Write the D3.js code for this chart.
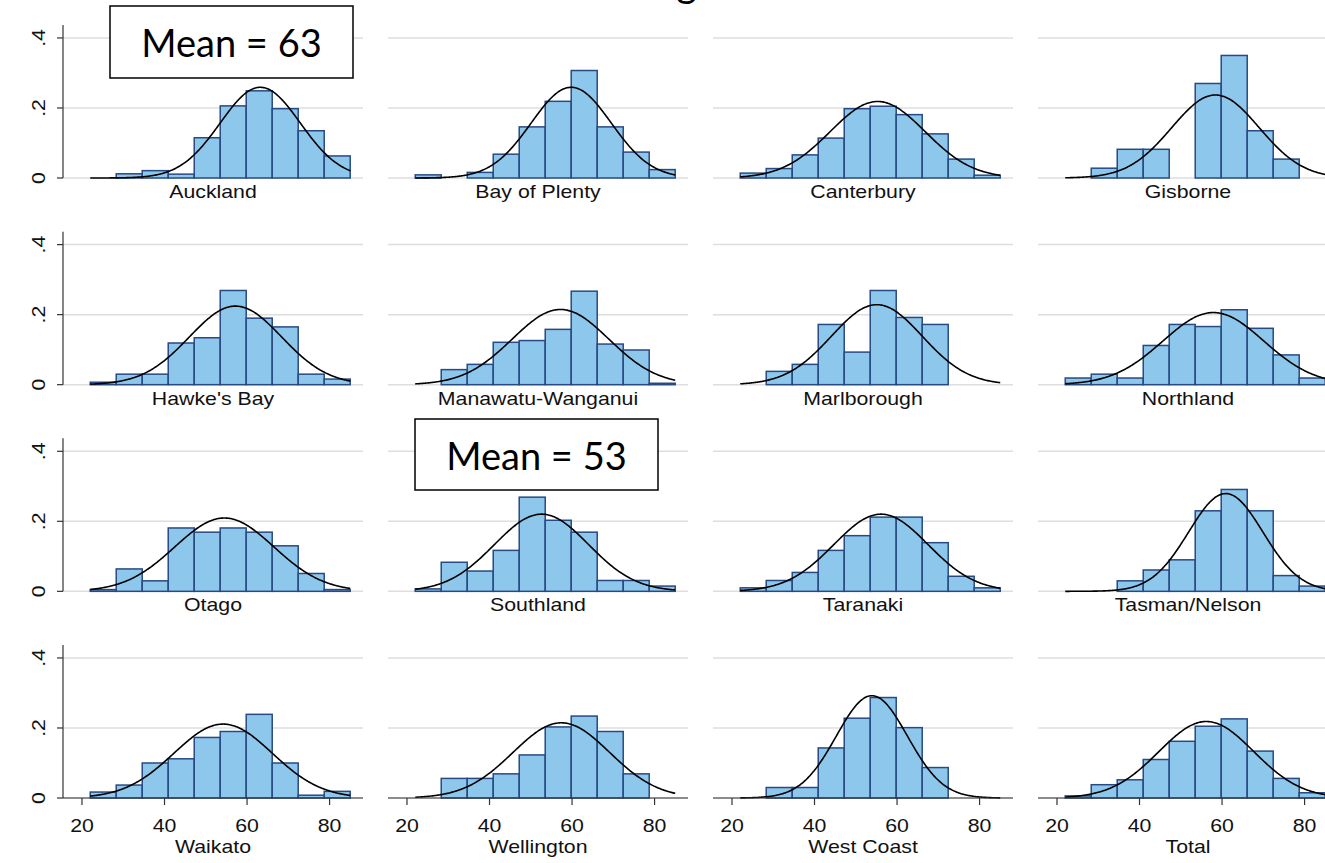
<!DOCTYPE html>
<html>
<head>
<meta charset="utf-8">
<script src="https://cdn.jsdelivr.net/npm/d3@7"></script>
<style>
  body { margin: 0; background: #fff; }
  svg { display: block; }
</style>
</head>
<body>
<div class="chart"></div>
<script>
// region order, left to right, top to bottom
const regions = ["Auckland", "Bay of Plenty", "Canterbury", "Gisborne",
  "Hawke's Bay", "Manawatu-Wanganui", "Marlborough", "Northland",
  "Otago", "Southland", "Taranaki", "Tasman/Nelson",
  "Waikato", "Wellington", "West Coast", "Total"];

// bin edges shared by every panel
const binEdges = [22, 28.3, 34.6, 40.9, 47.2, 53.5, 59.8, 66.1, 72.4, 78.7, 85];

// fraction of students per bin
const auckland     = [0, 0.012, 0.021, 0.011, 0.115, 0.206, 0.249, 0.198, 0.135, 0.063];
const bayOfPlenty  = [0.009, 0, 0.016, 0.068, 0.146, 0.219, 0.307, 0.146, 0.074, 0.024];
const canterbury   = [0.014, 0.027, 0.066, 0.114, 0.198, 0.205, 0.181, 0.126, 0.054, 0.008];
const gisborne     = [0, 0.028, 0.082, 0.082, 0, 0.270, 0.350, 0.135, 0.054, 0];
const hawkesBay    = [0.007, 0.030, 0.030, 0.119, 0.134, 0.269, 0.190, 0.165, 0.030, 0.016];
const manawatu     = [0, 0.043, 0.058, 0.121, 0.126, 0.158, 0.267, 0.116, 0.099, 0.004];
const marlborough  = [0, 0.038, 0.058, 0.172, 0.093, 0.269, 0.192, 0.172, 0, 0];
const northland    = [0.019, 0.030, 0.019, 0.112, 0.172, 0.166, 0.214, 0.161, 0.085, 0.019];
const otago        = [0.005, 0.064, 0.030, 0.181, 0.169, 0.181, 0.169, 0.130, 0.051, 0.005];
const southland    = [0.007, 0.083, 0.058, 0.117, 0.269, 0.203, 0.169, 0.031, 0.031, 0.015];
const taranaki     = [0.010, 0.031, 0.054, 0.117, 0.159, 0.212, 0.212, 0.139, 0.043, 0.010];
const tasmanNelson = [0, 0, 0.030, 0.061, 0.090, 0.230, 0.291, 0.230, 0.045, 0.015];
const waikato      = [0.017, 0.037, 0.100, 0.112, 0.173, 0.190, 0.239, 0.100, 0.008, 0.019];
const wellington   = [0, 0.056, 0.056, 0.069, 0.123, 0.203, 0.234, 0.190, 0.069, 0];
const westCoast    = [0, 0.030, 0.030, 0.143, 0.228, 0.287, 0.201, 0.087, 0, 0];
const total        = [0.006, 0.038, 0.052, 0.110, 0.162, 0.205, 0.226, 0.134, 0.056, 0.015];

const fractions = [auckland, bayOfPlenty, canterbury, gisborne,
  hawkesBay, manawatu, marlborough, northland,
  otago, southland, taranaki, tasmanNelson,
  waikato, wellington, westCoast, total];

// normal overlay parameters (mean, sd) per panel
const curveMeans = [63.2, 59.8, 55.3, 58.4, 57.2, 57.2, 55.1, 57.9,
  54.5, 52.6, 56.1, 60.9, 54.2, 57.4, 53.9, 56.2];
const curveSds = [9.7, 9.7, 11.5, 10.6, 11.2, 11.7, 11.0, 12.2,
  12.0, 11.4, 11.4, 9.0, 11.9, 11.7, 8.6, 11.5];

const xTicks = [20, 40, 60, 80];
const yTicks = [0, 0.2, 0.4];
const yTickLabels = ["0", ".2", ".4"];

// annotation boxes
const notes = [
  { text: "Mean = 63", panel: 0 },
  { text: "Mean = 53", panel: 9 }
];

const width = 1325, height = 863;
const plotW = 300, plotH = 153;
const colStep = 325, rowStep = 206.67;
const left0 = 63, top0 = 25;
const stretch = 1.145; // the stata text is stretched horizontally

const svg = d3.select(".chart")
  .append("svg")
  .attr("width", width)
  .attr("height", height);

const xScale = d3.scaleLinear().domain([15.4, 88.1]).range([0, plotW]);
const yScale = d3.scaleLinear().domain([0, 0.437]).range([plotH, 0]);

// title, mostly above the top edge
svg.append("text")
  .attr("x", 697)
  .attr("y", -3)
  .attr("text-anchor", "end")
  .style("font-family", "Lato, sans-serif")
  .style("font-size", "40px")
  .text("Reading");

function stataText(g, x, y, txt, anchor) {
  return g.append("text")
    .attr("transform", `translate(${x},${y}) scale(${stretch},1)`)
    .attr("text-anchor", anchor || "middle")
    .style("font-family", "'Liberation Sans', Arial, sans-serif")
    .style("font-size", "18.6px")
    .attr("fill", "#111")
    .text(txt);
}

const binWidth = binEdges[1] - binEdges[0];

regions.forEach((name, i) => {
  const col = i % 4, row = Math.floor(i / 4);
  const g = svg.append("g")
    .attr("transform", `translate(${left0 + col * colStep},${top0 + row * rowStep})`);

  // gridlines
  g.selectAll(".grid")
    .data(yTicks)
    .join("line")
    .attr("class", "grid")
    .attr("x1", 0).attr("x2", plotW)
    .attr("y1", d => yScale(d)).attr("y2", d => yScale(d))
    .attr("stroke", "#dedede")
    .attr("stroke-width", 1.5);

  // bars
  const bins = fractions[i].map((v, k) => ({ x0: binEdges[k], x1: binEdges[k + 1], v }))
    .filter(d => d.v > 0);
  g.selectAll(".bar")
    .data(bins)
    .join("rect")
    .attr("class", "bar")
    .attr("x", d => xScale(d.x0))
    .attr("width", d => xScale(d.x1) - xScale(d.x0))
    .attr("y", d => yScale(d.v))
    .attr("height", d => yScale(0) - yScale(d.v))
    .attr("fill", "#8ec7ec")
    .attr("stroke", "#284a82")
    .attr("stroke-width", 1.5);

  // normal curve scaled to the bin width
  const mu = curveMeans[i], sd = curveSds[i];
  const xs = d3.range(binEdges[0], binEdges[binEdges.length - 1] + 0.001, 0.25);
  const line = d3.line()
    .x(d => xScale(d))
    .y(d => yScale(binWidth * Math.exp(-0.5 * ((d - mu) / sd) ** 2) / (sd * Math.sqrt(2 * Math.PI))))
    .curve(d3.curveBasis);
  g.append("path")
    .datum(xs)
    .attr("d", line)
    .attr("fill", "none")
    .attr("stroke", "#000")
    .attr("stroke-width", 1.6);

  // y axis on the first column
  if (col === 0) {
    g.append("line")
      .attr("x1", 0).attr("x2", 0)
      .attr("y1", 0).attr("y2", plotH)
      .attr("stroke", "#333").attr("stroke-width", 1.2);
    yTicks.forEach((t, k) => {
      g.append("line")
        .attr("x1", -6).attr("x2", 0)
        .attr("y1", yScale(t)).attr("y2", yScale(t))
        .attr("stroke", "#333").attr("stroke-width", 1.2);
      g.append("text")
        .attr("transform", `translate(-18,${yScale(t)}) rotate(-90) scale(${stretch},1)`)
        .attr("text-anchor", "middle")
        .style("font-family", "'Liberation Sans', Arial, sans-serif")
        .style("font-size", "18.6px")
        .attr("fill", "#111")
        .text(yTickLabels[k]);
    });
  }

  // x axis on the last row
  if (row === 3) {
    g.append("line")
      .attr("x1", 0).attr("x2", plotW)
      .attr("y1", plotH).attr("y2", plotH)
      .attr("stroke", "#333").attr("stroke-width", 1.2);
    xTicks.forEach(t => {
      g.append("line")
        .attr("x1", xScale(t)).attr("x2", xScale(t))
        .attr("y1", plotH).attr("y2", plotH + 7)
        .attr("stroke", "#333").attr("stroke-width", 1.2);
      stataText(g, xScale(t), plotH + 34, String(t));
    });
    stataText(g, plotW / 2, plotH + 55, name);
  } else {
    stataText(g, plotW / 2, plotH + 20, name);
  }
});

// the two mean boxes
const boxes = [
  { x: 110, y: 6, w: 243, h: 72, base: 57 },
  { x: 415, y: 419, w: 243, h: 71, base: 470 }
];
notes.forEach((n, k) => {
  const b = boxes[k];
  svg.append("rect")
    .attr("x", b.x).attr("y", b.y)
    .attr("width", b.w).attr("height", b.h)
    .attr("fill", "#fff")
    .attr("stroke", "#000")
    .attr("stroke-width", 1.5);
  svg.append("text")
    .attr("x", b.x + b.w / 2)
    .attr("y", b.base)
    .attr("text-anchor", "middle")
    .style("font-family", "Lato, sans-serif")
    .style("font-size", "38px")
    .text(n.text);
});
</script>
</body>
</html>
